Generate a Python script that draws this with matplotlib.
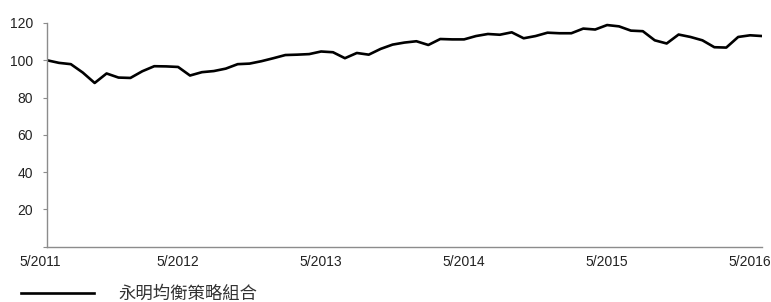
import numpy as np
import matplotlib.pyplot as plt
import matplotlib.transforms as mtransforms

plt.rcParams['font.family'] = ['Liberation Sans', 'Noto Sans CJK TC', 'DejaVu Sans']

# monthly index values, 5/2011 .. 5/2016
values = [100.0, 98.6, 97.9, 93.4, 87.8, 92.9, 90.7, 90.5, 94.1, 96.8,
          96.7, 96.4, 91.8, 93.6, 94.2, 95.5, 97.9, 98.2, 99.5, 101.1,
          102.8, 103.0, 103.3, 104.7, 104.3, 101.1, 103.9, 103.0, 106.1, 108.4,
          109.5, 110.2, 108.2, 111.4, 111.2, 111.2, 113.0, 114.1, 113.7, 115.0,
          111.8, 113.0, 114.8, 114.5, 114.5, 117.0, 116.5, 118.9, 118.2, 115.9,
          115.6, 110.7, 109.0, 113.8, 112.5, 110.7, 107.0, 106.8, 112.5, 113.4,
          113.0]
tick_pos = [0, 11, 23, 35, 47, 59]
tick_labels = ['5/2011', '5/2012', '5/2013', '5/2014', '5/2015', '5/2016']
series_name = '永明均衡策略組合'

fig = plt.figure(figsize=(7.71, 3.02), dpi=100)
ax = fig.add_axes([47/771, 55.5/302, 715/771, 223.5/302])

x = np.arange(len(values))
line, = ax.plot(x, values, color='black', lw=1.9, solid_joinstyle='round')

ax.set_xlim(0, 60)
ax.set_ylim(0, 120)
ax.set_yticks([0, 20, 40, 60, 80, 100, 120])
ax.set_yticklabels(['', '20', '40', '60', '80', '100', '120'])
ax.set_xticks(tick_pos)
ax.set_xticklabels(tick_labels)

for s in ['top', 'right']:
    ax.spines[s].set_visible(False)
for s in ['left', 'bottom']:
    ax.spines[s].set_color('#8c8c8c')
    ax.spines[s].set_linewidth(1.0)
ax.tick_params(axis='y', length=3, width=0.8, color='#8c8c8c', pad=7,
               labelsize=10, labelcolor='#222222')
ax.tick_params(axis='x', length=0, pad=6, labelsize=10, labelcolor='#222222')

# first date label sits a little left of the axis origin
first = ax.get_xticklabels()[0]
first.set_transform(first.get_transform() +
                    mtransforms.ScaledTranslation(-7/100, 0, fig.dpi_scale_trans))

fig.legend([line], [series_name], loc='center left',
           bbox_to_anchor=(21/771, 8/302), frameon=False,
           borderpad=0, borderaxespad=0, handlelength=4.2,
           handletextpad=1.4, prop={'family': ['Noto Sans CJK TC'], 'size': 12.5},
           labelcolor='#333333')

plt.savefig('out.png', dpi=100)
